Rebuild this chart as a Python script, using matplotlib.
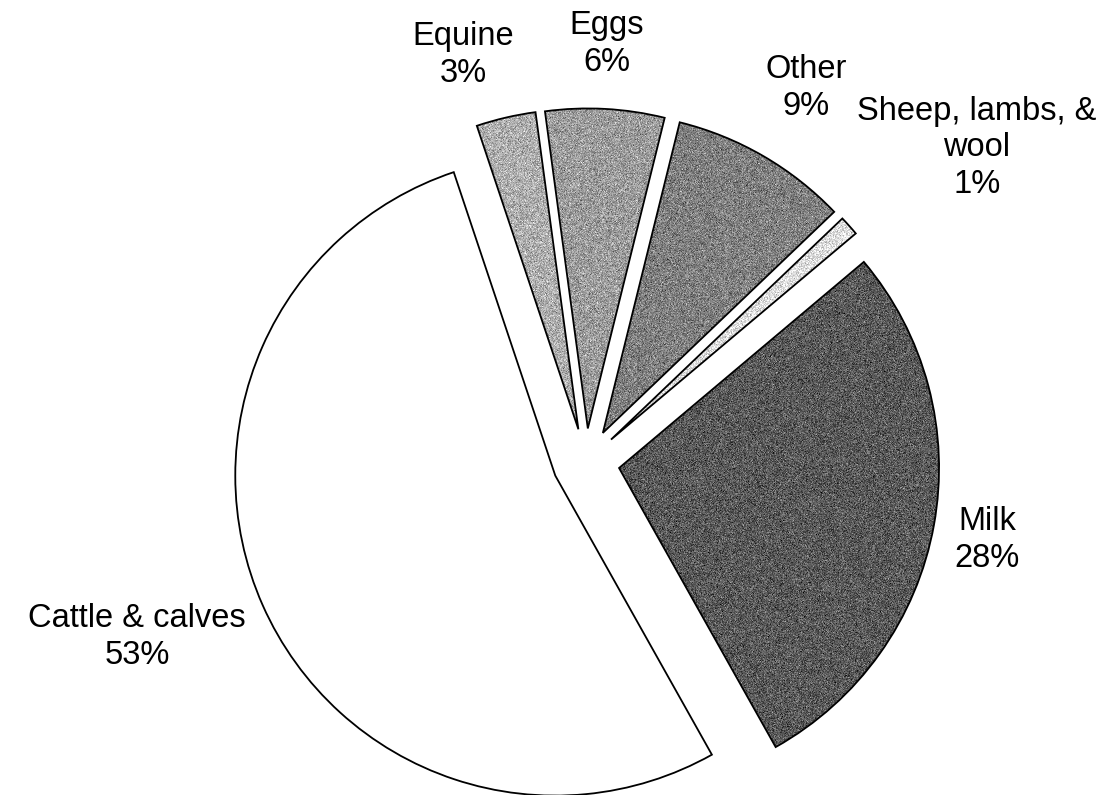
import matplotlib

matplotlib.use("Agg")
import matplotlib.pyplot as plt
import numpy as np

plt.rcParams["font.family"] = ["Liberation Sans", "DejaVu Sans"]

# share of livestock receipts, drawn counter-clockwise from the top-left
categories = ["Cattle & calves", "Milk", "Sheep, lambs, &\nwool", "Other", "Eggs", "Equine"]
shares = [53, 28, 1, 9, 6, 3]
grays = [1.0, 0.35, 0.87, 0.50, 0.61, 0.68]

# label centres in figure pixels (x from left, y from top)
label_xy = [(137, 637), (987, 540), (977, 148), (806, 88), (607, 44), (463, 55)]

W, H = 1113, 795
R = 320
fig = plt.figure(figsize=(W / 100, H / 100), dpi=100)
ax = fig.add_axes([0, 0, 1, 1])

# explode is an absolute offset in data units here, so give it as a fraction of R
wedges, _ = ax.pie(
    shares,
    explode=[0.105 * R] * len(shares),
    colors=[str(g) for g in grays],
    startangle=108.5,
    counterclock=True,
    radius=R,
    center=(586, H - 462),
    wedgeprops=dict(edgecolor="black", linewidth=1.3),
)

# screened shading: a grainy grey fill clipped to each tinted wedge
rng = np.random.default_rng(7)
for wedge, g in zip(wedges, grays):
    if g >= 1.0:
        continue
    grain = np.clip(g + rng.normal(0, 0.10, (H, W)), 0, 1)
    im = ax.imshow(grain, cmap="gray", vmin=0, vmax=1, extent=(0, W, 0, H),
                   interpolation="nearest", zorder=1.5)
    im.set_clip_path(wedge)
    wedge.set_facecolor("none")
    wedge.set_zorder(2)

for name, pct, (x, y) in zip(categories, shares, label_xy):
    ax.text(x, H - y, f"{name}\n{pct}%", ha="center", va="center",
            fontsize=23.5, linespacing=1.22)

ax.set_xlim(0, W)
ax.set_ylim(0, H)
ax.set_aspect("equal")
ax.axis("off")

fig.savefig("out.png", dpi=100)
